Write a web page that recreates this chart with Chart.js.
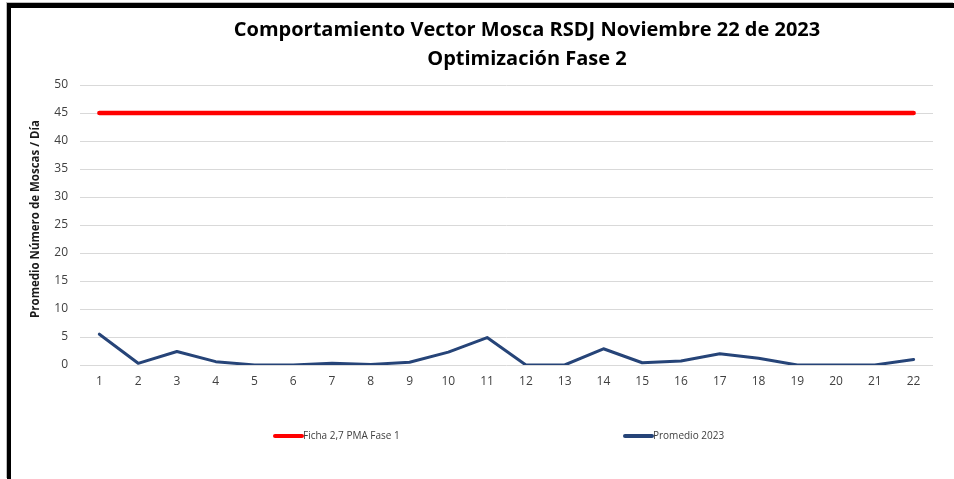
<!DOCTYPE html>
<html lang="es">
<head>
<meta charset="utf-8">
<title>Comportamiento Vector Mosca RSDJ</title>
<script src="https://cdn.jsdelivr.net/npm/chart.js@4.4.1/dist/chart.umd.min.js"></script>
<style>
  html, body { margin: 0; padding: 0; background: #fff; }
  body { width: 954px; height: 479px; position: relative; overflow: hidden; }
  /* marco negro del gráfico */
  #frame {
    position: absolute; left: 7px; top: 3px; right: 0; bottom: 0;
    border-top: 5px solid #000; border-left: 4px solid #000;
    box-shadow: -1px -1px 0 #bdbdbd;
  }
  #wrap { position: absolute; left: 0; top: 0; width: 954px; height: 479px; }
</style>
</head>
<body>
<div id="frame"></div>
<div id="wrap"><canvas id="moscaChart"></canvas></div>
<script>
/* ---- datos ---- */
const dias = ['1','2','3','4','5','6','7','8','9','10','11','12','13','14','15','16','17','18','19','20','21','22'];
const fichaPMA = [45,45,45,45,45,45,45,45,45,45,45,45,45,45,45,45,45,45,45,45,45,45];
const promedio2023 = [5.5, 0.3, 2.4, 0.6, 0, 0, 0.3, 0.1, 0.5, 2.3, 4.9, 0, 0, 2.9, 0.4, 0.7, 2.0, 1.2, 0, 0, 0, 1.0];
const yTicks = [0, 5, 10, 15, 20, 25, 30, 35, 40, 45, 50];

const tituloLineas = ['Comportamiento Vector Mosca RSDJ Noviembre 22 de 2023', 'Optimización Fase 2'];
const tituloEjeY = 'Promedio Número de Moscas / Día';
const FONT = "'Open Sans', 'Liberation Sans', sans-serif";

/* título en dos líneas + título del eje Y */
const tituloPlugin = {
  id: 'tituloDoble',
  afterDraw(chart) {
    const ctx = chart.ctx;
    ctx.save();
    ctx.fillStyle = '#000';
    ctx.font = `bold 20px ${FONT}`;
    ctx.textAlign = 'center';
    ctx.textBaseline = 'middle';
    ctx.fillText(tituloLineas[0], 527, 30);
    ctx.fillText(tituloLineas[1], 527, 59);

    ctx.translate(36, 219);
    ctx.rotate(-Math.PI / 2);
    ctx.fillStyle = '#1a1a1a';
    ctx.font = `bold 11.5px ${FONT}`;
    ctx.fillText(tituloEjeY, 0, 0);
    ctx.restore();
  }
};

/* leyenda inferior: línea + texto por serie */
const leyendaPlugin = {
  id: 'leyendaLinea',
  afterDraw(chart) {
    const ctx = chart.ctx;
    const y = 436, startX = 273, step = 350, lineLen = 29;
    ctx.save();
    ctx.font = `10px ${FONT}`;
    ctx.textBaseline = 'middle';
    ctx.textAlign = 'left';
    chart.data.datasets.forEach((ds, i) => {
      const x = startX + i * step;
      ctx.strokeStyle = ds.borderColor;
      ctx.lineWidth = 4;
      ctx.lineCap = 'round';
      ctx.beginPath();
      ctx.moveTo(x + 2, y);
      ctx.lineTo(x + lineLen, y);
      ctx.stroke();
      ctx.fillStyle = '#404040';
      ctx.fillText(ds.label, x + lineLen + 1, y);
    });
    ctx.restore();
  }
};

new Chart(document.getElementById('moscaChart'), {
  type: 'line',
  data: {
    labels: dias,
    datasets: [
      {
        label: 'Ficha 2,7 PMA Fase 1',
        data: fichaPMA,
        borderColor: '#ff0000',
        borderWidth: 4.5,
        borderCapStyle: 'round',
        pointRadius: 0,
        tension: 0
      },
      {
        label: 'Promedio 2023',
        data: promedio2023,
        borderColor: '#264478',
        borderWidth: 3,
        borderCapStyle: 'round',
        borderJoinStyle: 'round',
        pointRadius: 0,
        tension: 0
      }
    ]
  },
  options: {
    responsive: true,
    maintainAspectRatio: false,
    animation: false,
    layout: { padding: { top: 85, right: 21, bottom: 0, left: 0 } },
    plugins: {
      legend: { display: false },
      title: { display: false },
      tooltip: { enabled: false }
    },
    scales: {
      x: {
        offset: true,
        grid: { display: false, drawTicks: false },
        border: { display: false },
        ticks: { color: '#404040', padding: 9, font: { family: FONT, size: 12 } },
        afterFit(scale) { scale.height = 114; }
      },
      y: {
        min: 0, max: 50,
        afterBuildTicks(scale) { scale.ticks = yTicks.map(v => ({ value: v })); },
        grid: { color: '#d9d9d9', lineWidth: 1, drawTicks: false },
        border: { display: false },
        ticks: { color: '#404040', padding: 12, font: { family: FONT, size: 12 } },
        afterFit(scale) { scale.width = 80; }
      }
    }
  },
  plugins: [tituloPlugin, leyendaPlugin]
});
</script>
</body>
</html>
